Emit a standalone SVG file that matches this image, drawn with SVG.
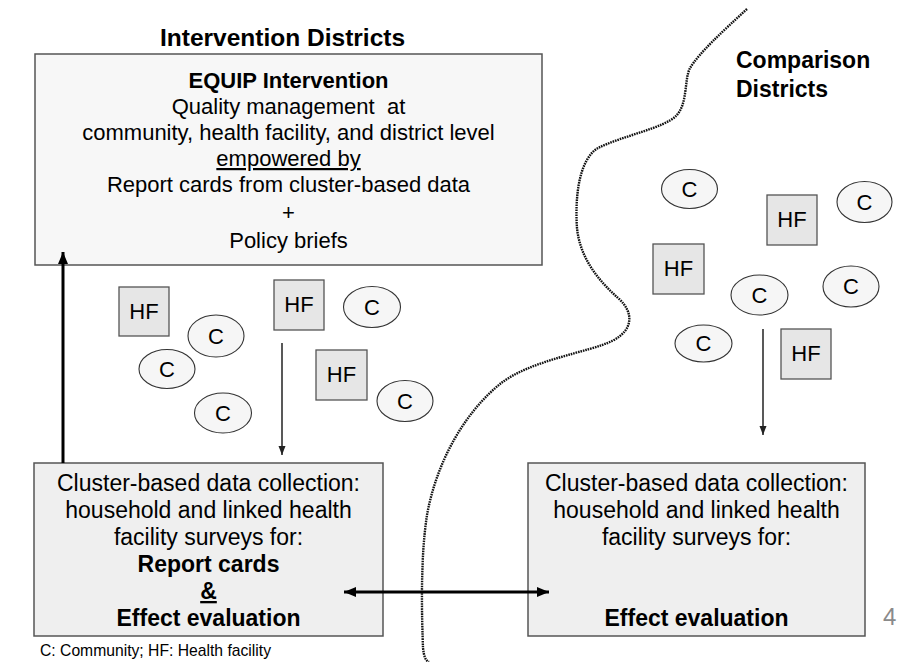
<svg xmlns="http://www.w3.org/2000/svg" width="902" height="662" viewBox="0 0 902 662">
  <style>
    text { font-family: "Liberation Sans", Arial, sans-serif; fill: #000; }
    .title { font-size: 24.5px; font-weight: bold; }
    .t22 { font-size: 22px; text-anchor: middle; }
    .t23 { font-size: 23px; text-anchor: middle; }
    .b { font-weight: bold; }
    .u { text-decoration: underline; }
    .box-top { fill: #f7f7f7; stroke: #555; stroke-width: 1.5; }
    .box-low { fill: #efefef; stroke: #555; stroke-width: 1.5; }
    .hf rect { fill: #e6e6e6; stroke: #555; stroke-width: 1.3; }
    .c ellipse { fill: #f6f6f6; stroke: #333; stroke-width: 1.1; }
    .lbl { font-size: 22px; text-anchor: middle; }
    .thin { stroke: #222; stroke-width: 1.5; fill: none; }
    .thick { stroke: #000; stroke-width: 3; fill: none; }
    .border { stroke: #111; stroke-width: 2.4; fill: none; stroke-dasharray: 1.6 0.9; }
  </style>
  <defs>
    <marker id="headThick" markerUnits="userSpaceOnUse" markerWidth="12" markerHeight="12" refX="12" refY="6" orient="auto-start-reverse">
      <path d="M0,1 L12,6 L0,11 z" fill="#000"/>
    </marker>
    <marker id="headThin" markerUnits="userSpaceOnUse" markerWidth="9" markerHeight="8" refX="9" refY="4" orient="auto">
      <path d="M0,0.5 L9,4 L0,7.5 z" fill="#222"/>
    </marker>
  </defs>

  <rect width="902" height="662" fill="#fff"/>

  <!-- district boundary -->
  <path class="border" d="M747,9 C722,32 700,52 690,68 C684,80 688,104 676,116 C664,128 622,136 598,148 C578,160 575,200 577,228 C580,258 598,280 618,298 C634,312 634,330 612,341 C590,352 530,360 500,384 C462,415 436,465 427,515 C420,560 422,620 423,648 C424,656 425,660 429,662"/>

  <text class="title" x="160" y="46">Intervention Districts</text>
  <text class="title" x="736" y="68" style="font-size:23px">Comparison</text>
  <text class="title" x="736" y="97" style="font-size:23px">Districts</text>

  <g id="equip-intervention">
    <rect class="box-top" x="35" y="54" width="507" height="211"/>
    <text class="t22 b" x="288.5" y="88">EQUIP Intervention</text>
    <text class="t22" x="288.5" y="114" xml:space="preserve">Quality management  at</text>
    <text class="t22" x="288.5" y="140">community, health facility, and district level</text>
    <text class="t22 u" x="288.5" y="166">empowered by</text>
    <text class="t22" x="288.5" y="192">Report cards from cluster-based data</text>
    <text class="t22" x="288.5" y="220">+</text>
    <text class="t22" x="288.5" y="248">Policy briefs</text>
  </g>

  <g id="collection-intervention">
    <rect class="box-low" x="34" y="463" width="349" height="173"/>
    <text class="t23" x="208.5" y="491">Cluster-based data collection:</text>
    <text class="t23" x="208.5" y="518">household and linked health</text>
    <text class="t23" x="208.5" y="545">facility surveys for:</text>
    <text class="t23 b" x="208.5" y="572">Report cards</text>
    <text class="t23 b u" x="208.5" y="599">&amp;</text>
    <text class="t23 b" x="208.5" y="626">Effect evaluation</text>
  </g>

  <g id="collection-comparison">
    <rect class="box-low" x="528" y="463" width="337" height="173"/>
    <text class="t23" x="696.5" y="491">Cluster-based data collection:</text>
    <text class="t23" x="696.5" y="518">household and linked health</text>
    <text class="t23" x="696.5" y="545">facility surveys for:</text>
    <text class="t23 b" x="696.5" y="626">Effect evaluation</text>
  </g>

  <!-- intervention district clusters -->
  <g id="hf-i1" class="hf"><rect x="119" y="287" width="50" height="49"/><text class="lbl" x="144" y="319">HF</text></g>
  <g id="hf-i2" class="hf"><rect x="274" y="280" width="50" height="50"/><text class="lbl" x="299" y="312">HF</text></g>
  <g id="hf-i3" class="hf"><rect x="316" y="350" width="51" height="50"/><text class="lbl" x="341.5" y="382">HF</text></g>
  <g id="c-i1" class="c"><ellipse cx="216" cy="336" rx="28" ry="21"/><text class="lbl" x="216" y="344">C</text></g>
  <g id="c-i2" class="c"><ellipse cx="167" cy="369" rx="28" ry="19.5"/><text class="lbl" x="167" y="377">C</text></g>
  <g id="c-i3" class="c"><ellipse cx="223" cy="413" rx="28.5" ry="20"/><text class="lbl" x="223" y="421">C</text></g>
  <g id="c-i4" class="c"><ellipse cx="372" cy="307" rx="28.5" ry="20.5"/><text class="lbl" x="372" y="315">C</text></g>
  <g id="c-i5" class="c"><ellipse cx="405" cy="401" rx="28" ry="20.5"/><text class="lbl" x="405" y="409">C</text></g>

  <!-- comparison district clusters -->
  <g id="hf-c1" class="hf"><rect x="767" y="195" width="50" height="50"/><text class="lbl" x="792" y="227">HF</text></g>
  <g id="hf-c2" class="hf"><rect x="653" y="244" width="51" height="50"/><text class="lbl" x="678.5" y="276">HF</text></g>
  <g id="hf-c3" class="hf"><rect x="781" y="329" width="50" height="50"/><text class="lbl" x="806" y="361">HF</text></g>
  <g id="c-c1" class="c"><ellipse cx="689.5" cy="189" rx="28" ry="19.5"/><text class="lbl" x="689.5" y="197">C</text></g>
  <g id="c-c2" class="c"><ellipse cx="864.5" cy="202" rx="27.5" ry="20.5"/><text class="lbl" x="864.5" y="210">C</text></g>
  <g id="c-c3" class="c"><ellipse cx="759.5" cy="295" rx="28.5" ry="20"/><text class="lbl" x="759.5" y="303">C</text></g>
  <g id="c-c4" class="c"><ellipse cx="851" cy="286.5" rx="28" ry="20.5"/><text class="lbl" x="851" y="294">C</text></g>
  <g id="c-c5" class="c"><ellipse cx="703.5" cy="343.5" rx="28.5" ry="18.5"/><text class="lbl" x="703.5" y="351">C</text></g>

  <g id="connectors">
    <line class="thick" x1="63" y1="463" x2="63" y2="252" marker-end="url(#headThick)"/>
    <line class="thick" x1="344" y1="592" x2="549" y2="592" marker-start="url(#headThick)" marker-end="url(#headThick)"/>
    <line class="thin" x1="282" y1="343" x2="282" y2="455" marker-end="url(#headThin)"/>
    <line class="thin" x1="763" y1="329" x2="763" y2="435" marker-end="url(#headThin)"/>
  </g>

  <text x="40" y="656" style="font-size:15.7px">C: Community; HF: Health facility</text>
  <text x="883" y="625" style="font-size:24px; fill:#8a8a8a">4</text>
</svg>
